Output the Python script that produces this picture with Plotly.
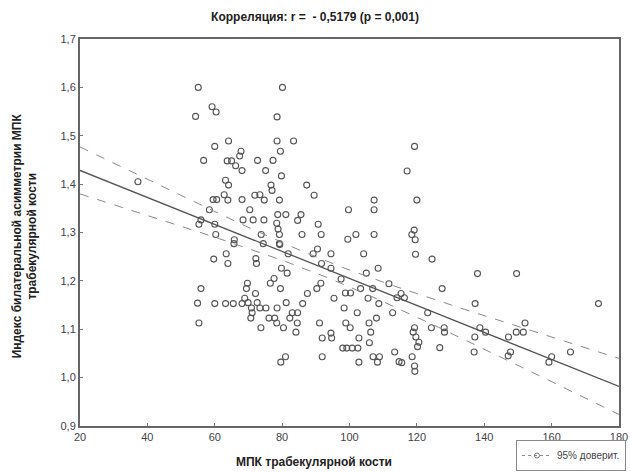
import numpy as np
import plotly.graph_objects as go

# Scatter data: МПК трабекулярной кости (x) vs index of bilateral asymmetry (y)
mpk = [
    55.1, 59.2, 60.4, 54.3, 64.1, 60.0, 67.8, 67.4, 56.7, 63.7, 65.0, 66.2, 68.1, 37.2, 63.2,
    64.1, 62.8, 59.5, 60.6, 63.9, 68.1, 58.4, 55.9, 55.3, 60.0, 68.4, 60.3, 65.8, 65.7,
    63.4, 59.7, 63.9, 55.9, 54.9, 60.0, 63.2, 65.5, 68.1, 55.3,
    80.1, 78.5, 78.5, 83.4, 79.5, 72.7, 77.3, 75.1, 79.8, 87.3, 76.7, 77.0, 89.5, 71.9, 73.4,
    74.7, 79.2, 107.3, 70.4, 99.7, 107.3, 78.7, 81.1, 85.6, 84.6, 71.4, 74.6, 78.4, 90.7, 78.8,
    73.8, 79.2, 85.9, 91.6, 101.9, 99.5, 107.3, 79.2, 79.3, 74.4,
    81.8, 89.2, 90.5, 94.5, 104.2, 72.2, 72.4, 91.7, 94.5, 79.8, 81.5, 108.5, 105.0, 77.6, 97.5,
    76.5, 91.5, 69.7, 69.4, 79.5, 90.3, 103.3, 106.9, 72.1, 87.5, 98.8, 100.3, 68.9, 69.9, 72.6,
    81.2, 86.1, 95.4, 105.5, 108.7, 70.9, 73.4, 75.2, 78.5, 98.4, 71.1, 83.0, 84.6, 102.3, 70.7,
    76.1, 77.8, 82.3, 108.0, 78.4, 84.5, 91.1, 98.9, 105.8, 73.7, 80.4, 100.2, 84.1, 106.3, 94.5,
    91.9, 94.7, 102.8, 105.9, 98.0, 99.2, 100.8, 102.5, 81.0, 91.9, 107.0, 108.9, 79.6, 102.8, 108.3,
    119.3, 117.1, 120.0, 119.2, 118.5, 119.5, 119.6, 124.5, 138.0, 149.6, 111.7, 127.5, 115.3, 114.1, 116.3,
    137.3, 173.9, 112.8, 123.2, 119.3, 124.3, 128.1, 138.7, 118.9, 128.2, 140.4, 149.5, 151.6, 152.1, 119.7,
    137.2, 147.2, 120.6, 120.2, 126.8, 113.4, 118.6, 114.7, 115.5, 119.3, 119.4, 137.0, 147.1, 147.8, 159.2,
    160.0, 165.6,
]
index_asym = [
    1.600, 1.560, 1.549, 1.540, 1.489, 1.478, 1.468, 1.458, 1.449, 1.448, 1.448, 1.438, 1.428, 1.405, 1.408,
    1.398, 1.378, 1.368, 1.368, 1.367, 1.368, 1.347, 1.326, 1.317, 1.317, 1.326, 1.296, 1.285, 1.277,
    1.256, 1.245, 1.236, 1.184, 1.154, 1.153, 1.153, 1.153, 1.153, 1.113,
    1.600, 1.539, 1.489, 1.489, 1.468, 1.449, 1.449, 1.428, 1.417, 1.398, 1.398, 1.387, 1.377, 1.377, 1.378,
    1.367, 1.367, 1.367, 1.347, 1.347, 1.347, 1.337, 1.337, 1.337, 1.325, 1.326, 1.326, 1.319, 1.317, 1.307,
    1.296, 1.296, 1.296, 1.296, 1.296, 1.286, 1.296, 1.277, 1.275, 1.277,
    1.256, 1.256, 1.266, 1.256, 1.256, 1.246, 1.236, 1.236, 1.226, 1.226, 1.216, 1.226, 1.216, 1.205, 1.204,
    1.195, 1.195, 1.195, 1.184, 1.184, 1.184, 1.184, 1.184, 1.174, 1.174, 1.175, 1.175, 1.164, 1.155, 1.155,
    1.155, 1.153, 1.164, 1.164, 1.153, 1.144, 1.144, 1.144, 1.144, 1.144, 1.134, 1.134, 1.134, 1.134, 1.123,
    1.123, 1.123, 1.123, 1.123, 1.113, 1.113, 1.113, 1.113, 1.113, 1.103, 1.103, 1.103, 1.094, 1.094, 1.092,
    1.082, 1.082, 1.082, 1.072, 1.061, 1.061, 1.061, 1.061, 1.043, 1.043, 1.043, 1.043, 1.032, 1.032, 1.032,
    1.478, 1.427, 1.367, 1.305, 1.296, 1.285, 1.255, 1.245, 1.215, 1.215, 1.194, 1.184, 1.174, 1.165, 1.165,
    1.153, 1.153, 1.134, 1.134, 1.103, 1.103, 1.103, 1.103, 1.094, 1.094, 1.094, 1.094, 1.094, 1.113, 1.084,
    1.084, 1.084, 1.073, 1.064, 1.062, 1.053, 1.043, 1.033, 1.031, 1.024, 1.013, 1.053, 1.045, 1.053, 1.032,
    1.043, 1.053,
]

x_ticks = [20, 40, 60, 80, 100, 120, 140, 160, 180]
x_tick_labels = ["20", "40", "60", "80", "100", "120", "140", "160", "180"]
y_ticks = [0.9, 1.0, 1.1, 1.2, 1.3, 1.4, 1.5, 1.6, 1.7]
y_tick_labels = ["0,9", "1,0", "1,1", "1,2", "1,3", "1,4", "1,5", "1,6", "1,7"]

title_text = "Корреляция: r =  - 0,5179 (p = 0,001)"
x_label = "МПК трабекулярной кости"
y_label = "Индекс билатеральной асимметрии МПК<br>трабекулярной кости"
ci_label = "95% доверит."

# Linear regression with 95% confidence band, computed from the data
xa = np.array(mpk)
ya = np.array(index_asym)
n = len(xa)
slope, intercept = np.polyfit(xa, ya, 1)
resid = ya - (intercept + slope * xa)
s = np.sqrt(np.sum(resid ** 2) / (n - 2))
xm = xa.mean()
sxx = np.sum((xa - xm) ** 2)
xg = np.linspace(20, 180, 161)
yg = intercept + slope * xg
half = 1.97 * s * np.sqrt(1.0 / n + (xg - xm) ** 2 / sxx)

FONT = "Liberation Sans, Arial, sans-serif"
fig = go.Figure()
fig.add_trace(go.Scatter(
    x=mpk, y=index_asym, mode="markers", showlegend=False,
    marker=dict(symbol="circle-open", size=6, color="#555555", line=dict(width=1.1)),
))
fig.add_trace(go.Scatter(x=xg, y=yg, mode="lines", showlegend=False,
                         line=dict(color="#555555", width=1.3)))
fig.add_trace(go.Scatter(x=xg, y=yg + half, mode="lines", showlegend=False,
                         line=dict(color="#8a8a8a", width=1, dash="dash")))
fig.add_trace(go.Scatter(x=xg, y=yg - half, mode="lines", showlegend=False,
                         line=dict(color="#8a8a8a", width=1, dash="dash")))
fig.add_trace(go.Scatter(x=[None], y=[None], mode="lines+markers", name=ci_label,
                         marker=dict(symbol="circle-open", size=5, color="#777777"),
                         line=dict(color="#8a8a8a", width=1, dash="dot")))

fig.update_layout(
    width=630, height=473,
    margin=dict(l=80, r=11, t=39, b=47, autoexpand=False),
    paper_bgcolor="white", plot_bgcolor="white",
    font=dict(family=FONT, size=11, color="#444444"),
    title=dict(text=title_text, x=0.5, xref="container", xanchor="center",
               y=1 - 17 / 473, yref="container", yanchor="middle",
               font=dict(family=FONT, size=12, color="#222222", weight="bold")),
    legend=dict(x=626 / 630, xref="container", xanchor="right",
                y=2 / 473, yref="container", yanchor="bottom",
                bordercolor="#888888", borderwidth=1, bgcolor="white",
                font=dict(size=10, color="#444444"), itemwidth=30,
                tracegroupgap=0),
    xaxis=dict(range=[20, 180], tickvals=x_ticks, ticktext=x_tick_labels,
               showgrid=False, zeroline=False, showline=True, mirror=True,
               linecolor="#666666", linewidth=2, ticks="inside", ticklen=3,
               tickcolor="#777777", automargin=False),
    yaxis=dict(range=[0.9, 1.7], tickvals=y_ticks, ticktext=y_tick_labels,
               showgrid=False, zeroline=False, showline=True, mirror=True,
               linecolor="#666666", linewidth=2, ticks="inside", ticklen=3,
               tickcolor="#777777", automargin=False),
    annotations=[
        dict(text=x_label, xref="paper", yref="paper", x=0.434, y=0, yshift=-36,
             xanchor="center", yanchor="middle", showarrow=False,
             font=dict(family=FONT, size=12, color="#222222", weight="bold")),
        dict(text=y_label, xref="paper", yref="paper", x=0, y=0.49, xshift=-55,
             xanchor="center", yanchor="middle", showarrow=False, textangle=-90,
             font=dict(family=FONT, size=12, color="#222222", weight="bold")),
    ],
)

fig.write_html("out.html")
